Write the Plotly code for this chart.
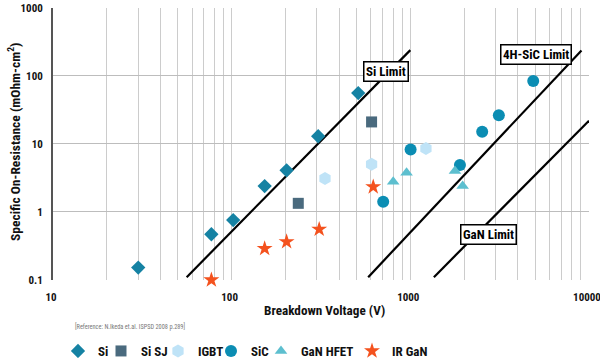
import math
import plotly.graph_objects as go

# ---- data ----
si_x = [30, 77, 102, 153, 203, 305, 511]
si_y = [0.152, 0.47, 0.76, 2.4, 4.1, 13.0, 56]

sisj_x = [236, 607]
sisj_y = [1.34, 21.1]

igbt_x = [333, 607, 1223]
igbt_y = [3.1, 5.05, 8.6]

sic_x = [705, 1004, 1896, 2525, 3130, 4875]
sic_y = [1.41, 8.3, 4.9, 15.1, 26.5, 84.5]

ganhfet_x = [802, 953, 1778, 1963]
ganhfet_y = [2.78, 3.77, 4.0, 2.4]

irgan_x = [77, 153, 203, 309, 620]
irgan_y = [0.1, 0.29, 0.365, 0.556, 2.34]

si_limit_x = [56, 1000]
si_limit_y = [0.11, 240]
sic_limit_x = [581, 9080]
sic_limit_y = [0.11, 238]
gan_limit_x = [1355, 10000]
gan_limit_y = [0.11, 22]

limit_labels = ["Si Limit", "4H-SiC Limit", "GaN Limit"]
limit_label_x = [730, 5050, 2735]
limit_label_y = [115, 208, 0.473]

x_tickvals = [10, 100, 1000, 10000]
x_ticktext = ["10", "100", "1000", "10000"]
y_tickvals = [0.1, 1, 10, 100, 1000]
y_ticktext = ["0.1", "1", "10", "100", "1000"]
x_grid = [v * m for v in (10, 100, 1000) for m in range(1, 10)][1:]
y_grid = [1, 10, 100]

FONT = "Roboto Condensed, Liberation Sans Narrow, DejaVu Sans Condensed, Arial Narrow, sans-serif"

# plot area in pixels
L, T, W, H = 53, 8, 536, 272

def px_x(p):
    return (p - L) / W

def px_y(p):
    return (T + H - p) / H

fig = go.Figure()

for lx, ly in [(si_limit_x, si_limit_y), (sic_limit_x, sic_limit_y), (gan_limit_x, gan_limit_y)]:
    fig.add_trace(go.Scatter(x=lx, y=ly, mode="lines", line=dict(color="black", width=2.2),
                             showlegend=False, hoverinfo="skip"))

series = [
    ("Si", si_x, si_y, "diamond", 11, "#1582a3"),
    ("Si SJ", sisj_x, sisj_y, "square", 11, "#4a6a7e"),
    ("IGBT", igbt_x, igbt_y, "hexagon", 13, "#bfe3f7"),
    ("SiC", sic_x, sic_y, "circle", 12, "#0b8db3"),
    ("GaN HFET", ganhfet_x, ganhfet_y, "triangle-up", 11, "#5dbfcf"),
    ("IR GaN", irgan_x, irgan_y, "star", 12, "#f4521e"),
]
# legend symbol centres (px) for each entry
legend_sym_px = [78, 121, 178, 231, 281, 372]
legend_layout = {}
for i, (name, xs, ys, sym, size, col) in enumerate(series):
    lg = "legend" if i == 0 else "legend%d" % (i + 1)
    fig.add_trace(go.Scatter(x=xs, y=ys, mode="markers", name=name, legend=lg, cliponaxis=False,
                             marker=dict(symbol=sym, size=size, color=col, line=dict(width=0))))
    legend_layout[lg] = dict(orientation="h", x=px_x(legend_sym_px[i] - 20), xanchor="left",
                             y=px_y(351), yanchor="middle",
                             font=dict(family=FONT, size=13, color="#111", weight="bold"),
                             bgcolor="rgba(0,0,0,0)", borderwidth=0)

for t, ax, ay in zip(limit_labels, limit_label_x, limit_label_y):
    fig.add_annotation(x=math.log10(ax), y=math.log10(ay), xref="x", yref="y",
                       text="<b>%s</b>" % t, showarrow=False,
                       font=dict(family=FONT, size=13, color="black"),
                       bgcolor="white", bordercolor="black", borderwidth=1.5, borderpad=1.5)

fig.add_annotation(x=px_x(324), y=px_y(310), xref="paper", yref="paper",
                   text="<b>Breakdown Voltage (V)</b>", showarrow=False,
                   font=dict(family=FONT, size=13.2, color="#111"), xanchor="center", yanchor="middle")
fig.add_annotation(x=px_x(14), y=px_y(142), xref="paper", yref="paper",
                   text="<b>Specific On-Resistance (mOhm-cm<sup>2</sup>)</b>", showarrow=False, textangle=-90,
                   font=dict(family=FONT, size=13.5, color="#111"), xanchor="center", yanchor="middle")
fig.add_annotation(x=px_x(73), y=px_y(326), xref="paper", yref="paper",
                   text="[Reference: N.Ikeda et.al. ISPSD 2008 p.289]", showarrow=False,
                   font=dict(family=FONT, size=6.3, color="#777"), xanchor="left", yanchor="middle")

fig.update_layout(
    width=600, height=358,
    margin=dict(l=L, r=600 - L - W, t=T, b=358 - T - H, autoexpand=False),
    paper_bgcolor="white", plot_bgcolor="white",
    font=dict(family=FONT, color="#111"),
    showlegend=True,
    xaxis=dict(type="log", range=[1, 4.0002], tickvals=x_tickvals, ticktext=x_ticktext,
               showgrid=False, zeroline=False, automargin=False,
               showline=False, ticks="", ticklabelstandoff=9, ticklabelshift=-2,
               ticklabeloverflow="allow",
               tickfont=dict(family=FONT, size=11, color="#111", weight="bold"),
               minor=dict(tickvals=x_grid, showgrid=True, gridcolor="#cccccc", gridwidth=1, ticks="")),
    yaxis=dict(type="log", range=[-1.0005, 3], tickvals=y_tickvals, ticktext=y_ticktext,
               showgrid=False, zeroline=False, automargin=False,
               showline=True, linecolor="#555", linewidth=2, ticks="", ticklabelstandoff=6,
               tickfont=dict(family=FONT, size=11, color="#111", weight="bold"),
               minor=dict(tickvals=y_grid, showgrid=True, gridcolor="#bdbdbd", gridwidth=1, ticks="")),
    **legend_layout,
)

fig.write_html("out.html", config={"displayModeBar": False},
               post_script="document.body.style.margin='0';document.body.style.overflow='hidden';")
